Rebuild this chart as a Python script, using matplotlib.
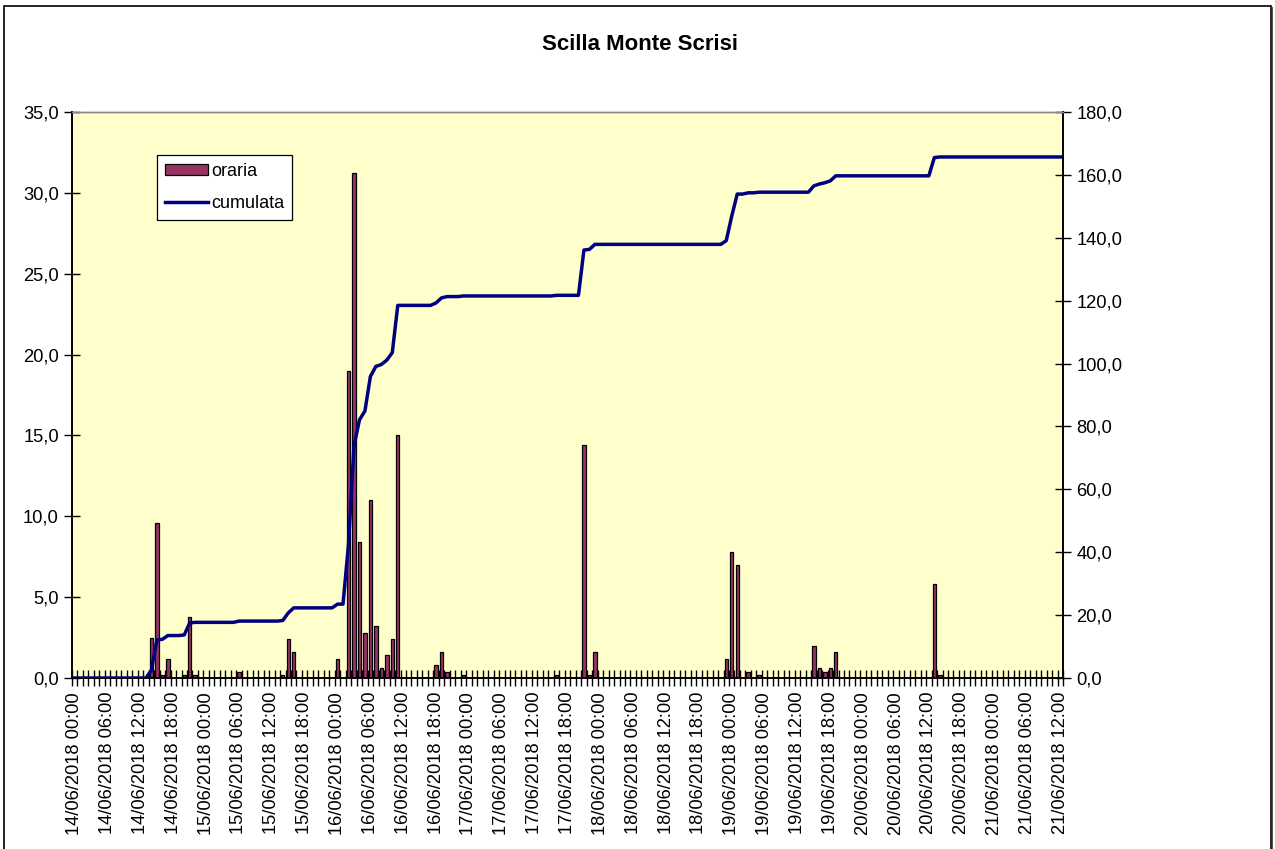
import numpy as np
import pandas as pd
import matplotlib
matplotlib.use("Agg")
import matplotlib.pyplot as plt
from matplotlib.patches import Rectangle, Patch
from matplotlib.lines import Line2D
from matplotlib.ticker import FuncFormatter, FixedLocator

plt.rcParams['font.family'] = ['Liberation Sans', 'DejaVu Sans']

# ---- data ----
title = "Scilla Monte Scrisi"
start_time = "2018-06-14 00:00"
n_hours = 181  # 14/06/2018 00:00 .. 21/06/2018 12:00, hourly
# hour index (from start) with non-zero rain, and hourly rain (mm)
rain_hour = [14, 15, 16, 17, 20, 21, 22, 30, 38, 39, 40,
             48, 50, 51, 52, 53, 54, 55, 56, 57, 58, 59,
             66, 67, 68, 71, 88, 93, 94, 95,
             119, 120, 121, 123, 125,
             135, 136, 137, 138, 139, 157, 158]
rain_mm = [2.5, 9.6, 0.2, 1.2, 0.2, 3.8, 0.2, 0.4, 0.2, 2.4, 1.6,
           1.2, 19.0, 31.2, 8.4, 2.8, 11.0, 3.2, 0.6, 1.4, 2.4, 15.0,
           0.8, 1.6, 0.4, 0.2, 0.2, 14.4, 0.2, 1.6,
           1.2, 7.8, 7.0, 0.4, 0.2,
           2.0, 0.6, 0.4, 0.6, 1.6, 5.8, 0.2]
label_every = 6
left_ticks = [0, 5, 10, 15, 20, 25, 30, 35]
right_ticks = [0, 20, 40, 60, 80, 100, 120, 140, 160, 180]

times = pd.date_range(start_time, periods=n_hours, freq="h")
oraria = np.zeros(n_hours)
oraria[rain_hour] = rain_mm
cumulata = np.cumsum(oraria)
x = np.arange(n_hours)

W, H = 1275, 849
fig = plt.figure(figsize=(W / 100, H / 100), dpi=100)
fig.patch.set_facecolor("white")

# outer chart frame
fig.patches.append(Rectangle((4 / W, -0.02), (1271 - 4) / W, 1 - 6 / H + 0.02,
                             transform=fig.transFigure, fill=False,
                             edgecolor="black", lw=1.2, zorder=0))
fig.patches.append(Rectangle((1271.5 / W, -0.02), 1.5 / W, 1 - 7 / H + 0.02,
                             transform=fig.transFigure, facecolor="#555555",
                             edgecolor="none", zorder=0))

l, r, t, b = 72, 1063, 112, 678
ax = fig.add_axes([l / W, 1 - b / H, (r - l) / W, (b - t) / H])
ax.set_facecolor("#FFFFCC")
ax2 = ax.twinx()

bar_color = "#993366"
ax.bar(x, oraria, width=0.62, color=bar_color, edgecolor="black", linewidth=0.9, zorder=2)
ax2.plot(x, cumulata, color="#000080", lw=2.5, zorder=3, solid_joinstyle="round")

ax.set_xlim(-0.5, n_hours - 0.5)
ax.set_ylim(0, 35)
ax2.set_ylim(0, 180)

fmt = FuncFormatter(lambda v, p: f"{v:.1f}".replace(".", ","))
ax.yaxis.set_major_locator(FixedLocator(left_ticks))
ax2.yaxis.set_major_locator(FixedLocator(right_ticks))
ax.yaxis.set_major_formatter(fmt)
ax2.yaxis.set_major_formatter(fmt)

lab_pos = x[::label_every]
ax.set_xticks(lab_pos)
ax.set_xticklabels([t_.strftime("%d/%m/%Y %H:%M") for t_ in times[::label_every]],
                   rotation=90, ha="center", va="top")
ax.set_xticks(np.arange(-0.5, n_hours, 1.0), minor=True)
ax.tick_params(axis="x", which="major", length=0, pad=10, labelsize=13.2)
ax.tick_params(axis="x", which="minor", direction="inout", length=11, width=1.0, color="black")
ax.tick_params(axis="y", direction="inout", length=11, width=1.0, pad=4, labelsize=13.2)
ax2.tick_params(axis="y", direction="inout", length=11, width=1.0, pad=4, labelsize=13.2)

for a in (ax, ax2):
    a.spines["top"].set_color("#888888")
    a.spines["top"].set_linewidth(1.0)
    a.spines["left"].set_color("black")
    a.spines["right"].set_color("black")
    a.spines["bottom"].set_color("black")
    a.spines["left"].set_linewidth(1.2)
    a.spines["right"].set_linewidth(1.2)
    a.spines["bottom"].set_linewidth(1.2)

fig.text(640 / W, 1 - 45 / H, title, ha="center", va="center",
         fontsize=16, fontweight="bold")

handles = [Patch(facecolor=bar_color, edgecolor="black", linewidth=0.9, label="oraria"),
           Line2D([0], [0], color="#000080", lw=2.5, label="cumulata")]
leg = ax2.legend(handles=handles, loc="upper left",
                 bbox_to_anchor=((157 - l) / (r - l), (b - 155) / (b - t)),
                 borderaxespad=0, fancybox=False, framealpha=1, edgecolor="black",
                 fontsize=13, handlelength=2.4, handleheight=0.6, handletextpad=0.15,
                 borderpad=0.45, labelspacing=0.8)
leg.get_frame().set_linewidth(0.9)
leg.set_zorder(10)

fig.savefig("out.png", dpi=100, facecolor="white")
